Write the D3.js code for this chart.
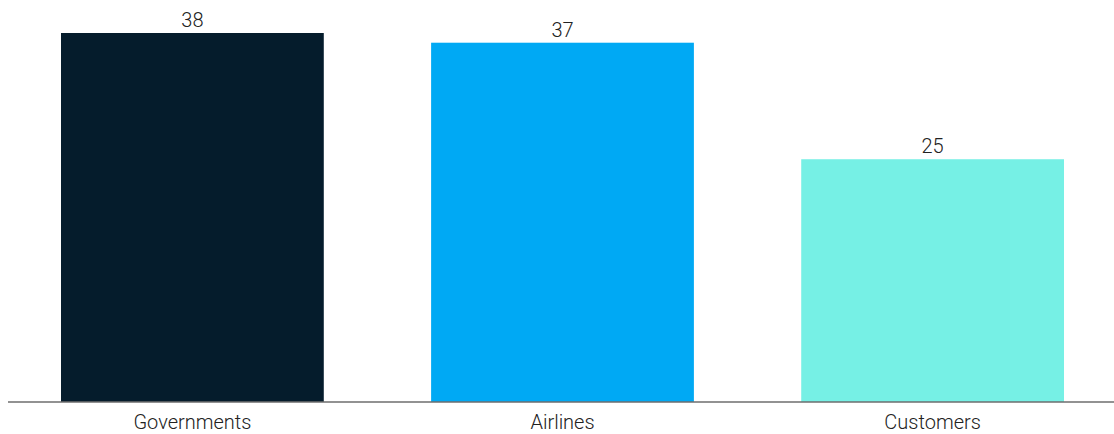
<!DOCTYPE html>
<html>
<head>
<meta charset="utf-8">
<script src="https://cdn.jsdelivr.net/npm/d3@7.9.0/dist/d3.min.js"></script>
<style>
  html, body { margin: 0; padding: 0; background: #fff; }
  svg { display: block; font-family: Roboto, "Liberation Sans", sans-serif; font-weight: 300; }
</style>
</head>
<body>
<div id="chart"></div>
<script>
const categories = ['Governments', 'Airlines', 'Customers'];
const values = [38, 37, 25];
const colors = ['#051c2c', '#00a9f4', '#76f0e5'];

const width = 1114;
const height = 434;
const margin = { top: 33, right: 0, bottom: 32, left: 8 };
const baseline = height - margin.bottom;

const data = categories.map((c, i) => ({ category: c, value: values[i], color: colors[i] }));

const svg = d3.select('#chart')
  .append('svg')
  .attr('width', width)
  .attr('height', height);

// bars start at x=61, last ends at x=1064
const xScale = d3.scaleBand()
  .domain(categories)
  .range([61, 1064])
  .paddingInner(0.29)
  .paddingOuter(0);

const yScale = d3.scaleLinear()
  .domain([0, d3.max(values)])
  .range([baseline, margin.top]);

// bars
svg.append('g')
  .selectAll('rect')
  .data(data)
  .join('rect')
  .attr('x', d => xScale(d.category))
  .attr('y', d => yScale(d.value))
  .attr('width', xScale.bandwidth())
  .attr('height', d => baseline - yScale(d.value))
  .attr('fill', d => d.color);

// value labels
svg.append('g')
  .selectAll('text')
  .data(data)
  .join('text')
  .attr('x', d => xScale(d.category) + xScale.bandwidth() / 2)
  .attr('y', d => yScale(d.value) - 6)
  .attr('text-anchor', 'middle')
  .attr('font-size', 20)
  .attr('fill', '#222')
  .text(d => d.value);

// x axis: baseline + category labels
const xAxis = svg.append('g')
  .attr('transform', `translate(0, ${baseline})`)
  .call(d3.axisBottom(xScale).tickSize(0).tickPadding(27));

xAxis.select('.domain')
  .attr('d', `M${margin.left},0H${width}`)
  .attr('stroke', '#6e6e6e')
  .attr('stroke-width', 1.3);

xAxis.selectAll('text')
  .attr('font-size', 20)
  .attr('font-family', 'Roboto, "Liberation Sans", sans-serif')
  .attr('font-weight', 300)
  .attr('fill', '#222')
  .attr('dy', 0);
</script>
</body>
</html>
